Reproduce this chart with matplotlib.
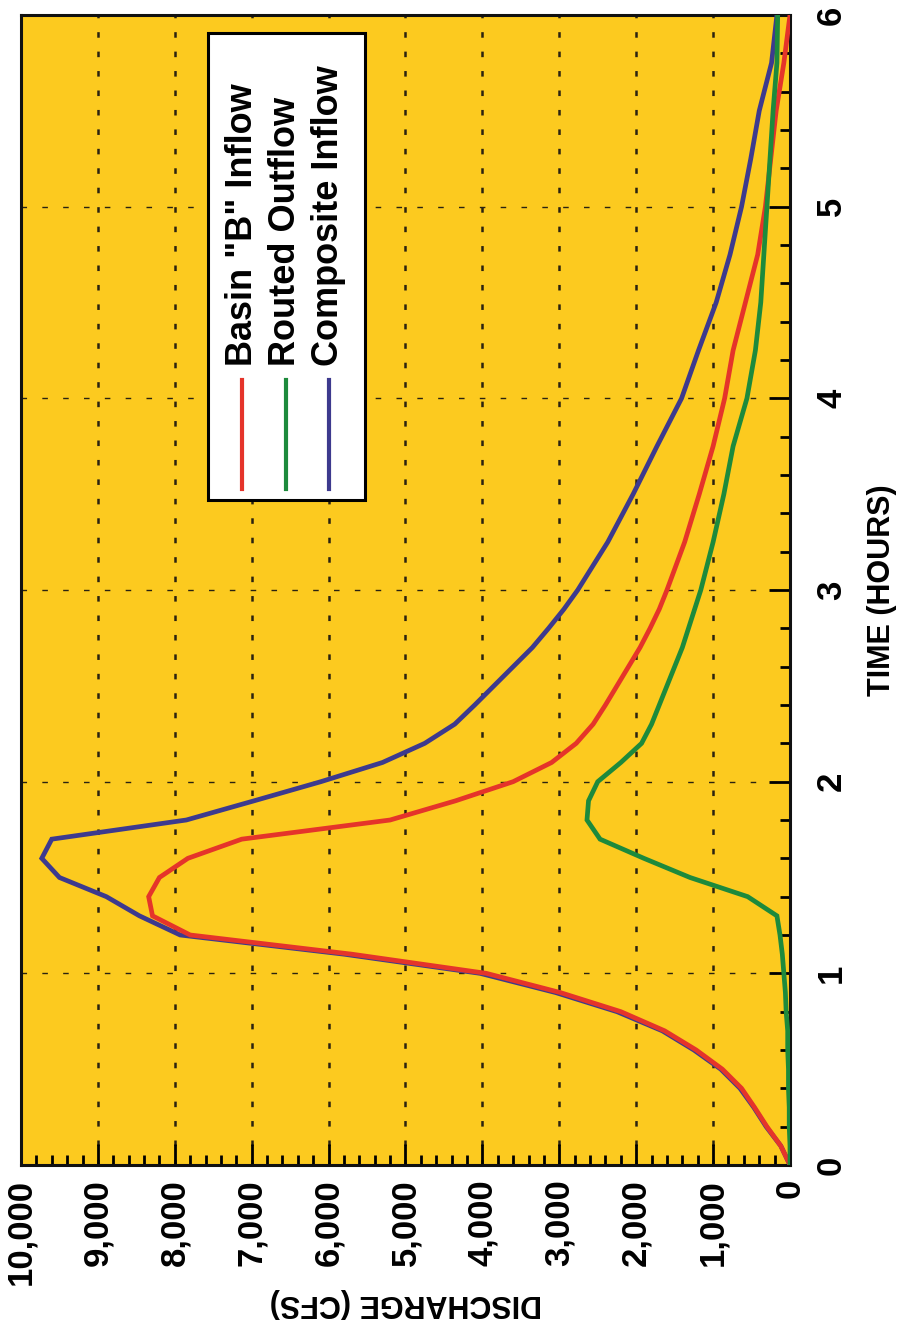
import matplotlib
matplotlib.use("Agg")
import matplotlib.pyplot as plt
from matplotlib.ticker import MultipleLocator, FuncFormatter
from matplotlib.patches import Rectangle
from matplotlib.lines import Line2D

plt.rcParams['font.family'] = ['Liberation Sans', 'DejaVu Sans']
plt.rcParams['font.weight'] = 'bold'
plt.rcParams['axes.labelweight'] = 'bold'
plt.rcParams['lines.scale_dashes'] = False

# time in hours
hours = [0.0, 0.1, 0.2, 0.3, 0.4, 0.5, 0.6, 0.7, 0.8, 0.9,
         1.0, 1.1, 1.2, 1.3, 1.4, 1.5, 1.6, 1.7, 1.8, 1.9,
         2.0, 2.1, 2.2, 2.3, 2.4, 2.5, 2.6, 2.7, 2.8, 2.9,
         3.0, 3.25, 3.5, 3.75, 4.0, 4.25, 4.5, 4.75, 5.0, 5.25,
         5.5, 5.75, 6.0]

# discharge in cfs
basin_b_inflow = [0, 120, 300, 460, 630, 880, 1220, 1630, 2200, 2990,
                  3950, 5700, 7800, 8290, 8340, 8200, 7830, 7130, 5200, 4350,
                  3600, 3100, 2780, 2560, 2400, 2250, 2100, 1950, 1820, 1700,
                  1600, 1370, 1180, 1000, 850, 740, 580, 420, 320, 250,
                  180, 80, 0]

routed_outflow = [0, 0, 10, 10, 20, 20, 30, 30, 50, 60,
                  80, 100, 130, 170, 550, 1300, 1900, 2470, 2640, 2620,
                  2500, 2200, 1930, 1800, 1700, 1600, 1500, 1400, 1320, 1240,
                  1160, 1000, 860, 740, 560, 450, 380, 340, 300, 260,
                  220, 170, 160]

composite_inflow = [0, 120, 310, 470, 650, 900, 1250, 1660, 2250, 3050,
                    4030, 5800, 7930, 8460, 8890, 9500, 9730, 9600, 7850, 6970,
                    6100, 5300, 4750, 4360, 4100, 3850, 3600, 3350, 3140, 2940,
                    2760, 2370, 2040, 1730, 1410, 1190, 960, 780, 630, 510,
                    400, 240, 170]

series_names = ['Basin "B" Inflow', 'Routed Outflow', 'Composite Inflow']
series_colors = ['#e5342a', '#1d8a3c', '#3d3a8e']

W, H = 908, 1323
fig = plt.figure(figsize=(W / 100, H / 100), dpi=100)
ax = fig.add_axes([21 / W, 1 - 1165 / H, 769 / W, 1150 / H])
ax.set_facecolor('#fcca1f')

ax.plot(composite_inflow, hours, color=series_colors[2], lw=3.4, zorder=3,
        solid_joinstyle='miter')
ax.plot(basin_b_inflow, hours, color=series_colors[0], lw=3.4, zorder=4,
        solid_joinstyle='miter')
ax.plot(routed_outflow, hours, color=series_colors[1], lw=3.4, zorder=5,
        solid_joinstyle='miter')

ax.set_xlim(10000, 0)
ax.set_ylim(0, 6)

ax.xaxis.set_major_locator(MultipleLocator(1000))
ax.xaxis.set_minor_locator(MultipleLocator(200))
ax.xaxis.set_major_formatter(FuncFormatter(lambda v, p: f'{int(round(v)):,}'))
ax.yaxis.set_major_locator(MultipleLocator(1))
ax.yaxis.set_minor_locator(MultipleLocator(0.2))
ax.yaxis.tick_right()
ax.yaxis.set_label_position('right')

ax.tick_params(axis='x', which='major', direction='in', length=15, width=2,
               labelsize=25, labelrotation=90, pad=10, top=False)
ax.tick_params(axis='x', which='minor', direction='in', length=7, width=2, top=False)
ax.tick_params(axis='y', which='major', direction='in', length=15, width=2,
               labelsize=25, labelrotation=90, pad=18, left=False, right=True)
ax.tick_params(axis='y', which='minor', direction='in', length=7, width=2,
               left=False, right=True)
for lab in ax.get_yticklabels():
    lab.set_va('center')

for s in ax.spines.values():
    s.set_linewidth(2.2)
    s.set_color('#111111')

# dotted grid
ax.grid(True, axis='x', which='major', color='#2a2210', lw=1.8,
        linestyle=(0, (4, 10)), zorder=1)
ax.grid(True, axis='y', which='major', color='#2a2210', lw=1.0,
        linestyle=(0, (4, 11)), zorder=1)

ax.set_xlabel('DISCHARGE (CFS)', fontsize=22, fontweight='bold', rotation=180,
              labelpad=2)
ax.set_ylabel('TIME (HOURS)', fontsize=22, fontweight='bold', rotation=90,
              labelpad=14)

# legend box with vertical entries
ax.add_patch(Rectangle((0.243, 0.578), 0.204, 0.406, transform=ax.transAxes,
                       facecolor='white', edgecolor='black', lw=2.2, zorder=6))
legend_x = [0.288, 0.344, 0.400]
for lx, name, col in zip(legend_x, series_names, series_colors):
    ax.add_line(Line2D([lx, lx], [0.588, 0.683], transform=ax.transAxes,
                       color=col, lw=3, zorder=7))
    ax.text(lx, 0.695, name, transform=ax.transAxes, rotation=90,
            ha='center', va='bottom', fontsize=26, zorder=7)

fig.savefig('out.png', dpi=100, facecolor='white')
